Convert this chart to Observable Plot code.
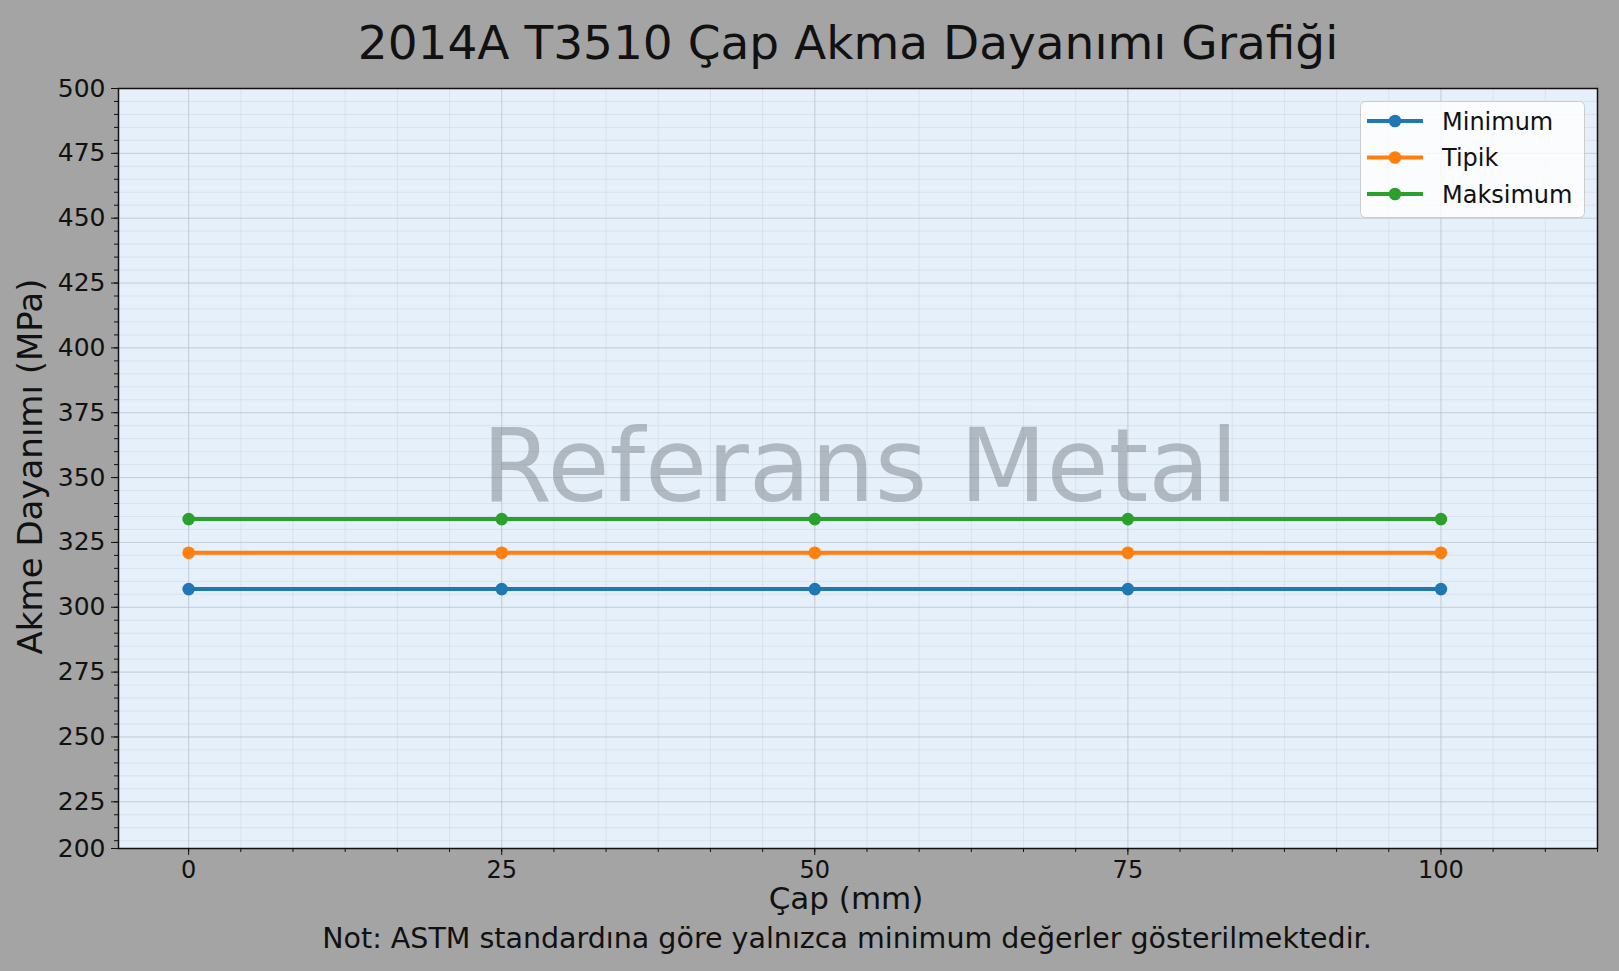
<!DOCTYPE html>
<html>
<head>
<meta charset="utf-8">
<script src="https://cdn.jsdelivr.net/npm/d3@7"></script>
<script src="https://cdn.jsdelivr.net/npm/@observablehq/plot@0.6"></script>
<style>
  html, body { margin: 0; padding: 0; }
  body { width: 1619px; height: 971px; background: #a4a4a4; overflow: hidden; font-family: "DejaVu Sans", sans-serif; position: relative; }
  #title { position: absolute; left: 0; width: 1696px; top: 19px; text-align: center; font-size: 47px; line-height: 1; color: #111; white-space: nowrap; z-index: 2; }
  #chart { position: absolute; left: 0; top: 60px; z-index: 1; }
  #note { position: absolute; left: 0; width: 1694px; top: 925px; text-align: center; font-size: 28.5px; line-height: 1; color: #111; white-space: nowrap; }
  #legend { position: absolute; left: 1360px; top: 101px; z-index: 3; }
</style>
</head>
<body>
<div id="title">2014A T3510 Çap Akma Dayanımı Grafiği</div>
<div id="chart"></div>
<div id="legend"></div>
<div id="note">Not: ASTM standardına göre yalnızca minimum değerler gösterilmektedir.</div>
<script>
// ---- data ----
const diameters = [0, 25, 50, 75, 100];
const minimumValues = [307, 307, 307, 307, 307];
const typicalValues = [321, 321, 321, 321, 321];
const maximumValues = [334, 334, 334, 334, 334];
const seriesNames = ["Minimum", "Tipik", "Maksimum"];
const seriesColors = ["#1f77b4", "#ff7f0e", "#2ca02c"];
const xTickValues = [0, 25, 50, 75, 100];
const yTickValues = [200, 225, 250, 275, 300, 325, 350, 375, 400, 425, 450, 475, 500];
const xLabel = "Çap (mm)";
const yLabel = "Akme Dayanımı (MPa)";
const watermark = "Referans Metal";

const seriesValues = [minimumValues, typicalValues, maximumValues];
const data = seriesNames.flatMap((name, si) =>
  diameters.map((d, i) => ({series: name, diameter: d, value: seriesValues[si][i]}))
);
const xMinor = d3.range(28).map(i => i * 25 / 6);
const yMinor = d3.range(205, 501, 5);

const W = 1619, H = 860;
const chart = Plot.plot({
  width: W,
  height: H,
  marginLeft: 118,
  marginRight: 22,
  marginTop: 28,
  marginBottom: 72,
  style: {background: "transparent", color: "#111", fontFamily: "DejaVu Sans"},
  x: {domain: [-5.6, 112.5], label: null},
  y: {domain: [207, 500], label: null, clamp: true},
  color: {domain: seriesNames, range: seriesColors},
  marks: [
    Plot.frame({fill: "#e6f0fa", stroke: null}),
    Plot.gridX(xMinor, {stroke: "#c6d2de", strokeOpacity: 0.45, strokeWidth: 1}),
    Plot.gridY(yMinor, {stroke: "#c6d2de", strokeOpacity: 0.45, strokeWidth: 1}),
    Plot.gridX(xTickValues, {stroke: "#b8bec6", strokeOpacity: 0.55, strokeWidth: 1}),
    Plot.gridY(yTickValues, {stroke: "#b8bec6", strokeOpacity: 0.55, strokeWidth: 1}),
    Plot.text([watermark], {frameAnchor: "middle", dx: 2, fontSize: 101, fill: "#7a7f88", fillOpacity: 0.5, lineAnchor: "middle"}),
    Plot.line(data, {x: "diameter", y: "value", z: "series", stroke: "series", strokeWidth: 4}),
    Plot.dot(data, {x: "diameter", y: "value", fill: "series", r: 6.3, stroke: null}),
    Plot.frame({stroke: "#111", strokeWidth: 1.5}),
    Plot.axisX(xTickValues, {tickSize: 7, tickPadding: 5, fontSize: 24, label: null, stroke: "#111"}),
    Plot.axisX(xMinor, {tickSize: 4, text: null, label: null, stroke: "#111"}),
    Plot.axisY(yTickValues, {tickSize: 7, tickPadding: 6, fontSize: 25, label: null, stroke: "#111"}),
    Plot.axisY(yMinor, {tickSize: 4, text: null, label: null, stroke: "#111"}),
    Plot.text([xLabel], {frameAnchor: "bottom", dy: 51, dx: -12, fontSize: 31, lineAnchor: "middle", textAnchor: "middle", fill: "#111"}),
    Plot.text([yLabel], {frameAnchor: "left", rotate: -90, dx: -87, dy: -2, fontSize: 34, lineAnchor: "middle", textAnchor: "middle", fill: "#111"})
  ]
});
document.getElementById("chart").appendChild(chart);

// ---- legend ----
const lg = d3.select("#legend").append("svg").attr("width", 226).attr("height", 118);
lg.append("rect").attr("x", 0.5).attr("y", 0.5).attr("width", 224).attr("height", 116)
  .attr("rx", 5).attr("fill", "rgba(255,255,255,0.8)").attr("stroke", "#cccccc");
seriesNames.forEach((name, i) => {
  const cy = 20 + i * 36.5;
  lg.append("line").attr("x1", 7).attr("x2", 63).attr("y1", cy).attr("y2", cy)
    .attr("stroke", seriesColors[i]).attr("stroke-width", 4);
  lg.append("circle").attr("cx", 35).attr("cy", cy).attr("r", 6.3).attr("fill", seriesColors[i]);
  lg.append("text").attr("x", 82).attr("y", cy).attr("dy", "0.36em")
    .attr("font-size", 24).attr("font-family", "DejaVu Sans").attr("fill", "#111").text(name);
});
</script>
</body>
</html>
